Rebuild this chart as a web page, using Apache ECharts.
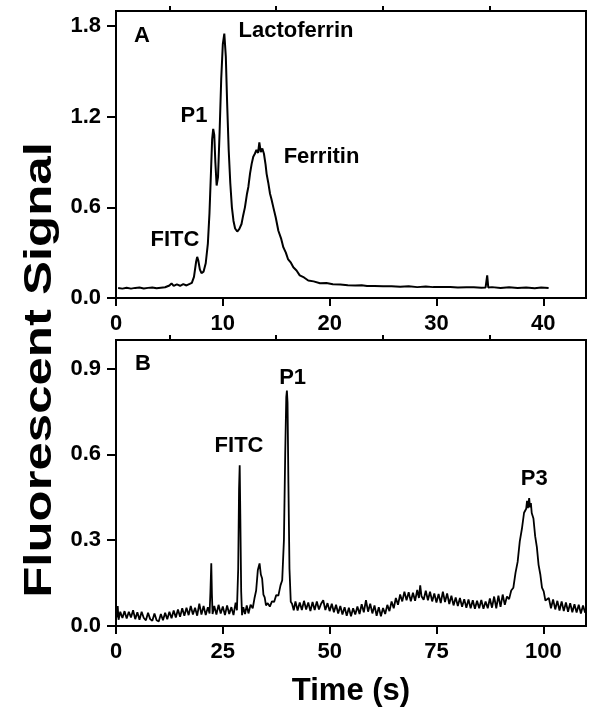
<!DOCTYPE html>
<html><head><meta charset="utf-8">
<script src="https://cdn.jsdelivr.net/npm/echarts@6/dist/echarts.min.js"></script>
<style>html,body{margin:0;padding:0;background:#fff}#c{width:604px;height:717px}</style>
</head><body><div id="c"></div>
<script>
// Panel A: time (s), fluorescent signal
const traceA = [[0.2,0.066],[0.6,0.062],[1.0,0.068],[1.4,0.062],[1.8,0.067],[2.2,0.069],[2.6,0.063],[3.0,0.067],[3.4,0.070],[3.8,0.064],[4.2,0.068],[4.6,0.071],[5.0,0.083],[5.2,0.097],[5.4,0.080],[5.7,0.090],[6.0,0.081],[6.3,0.092],[6.6,0.083],[6.9,0.093],[7.1,0.100],[7.3,0.140],[7.5,0.240],[7.6,0.272],[7.7,0.250],[7.85,0.190],[8.0,0.165],[8.2,0.175],[8.4,0.230],[8.6,0.360],[8.75,0.560],[8.9,0.850],[9.0,1.050],[9.1,1.120],[9.2,1.080],[9.3,0.900],[9.42,0.745],[9.55,0.800],[9.7,1.100],[9.85,1.450],[10.0,1.680],[10.14,1.750],[10.28,1.600],[10.4,1.300],[10.55,0.980],[10.7,0.760],[10.85,0.600],[11.0,0.510],[11.15,0.460],[11.35,0.440],[11.55,0.458],[11.75,0.490],[11.9,0.545],[12.07,0.600],[12.25,0.685],[12.39,0.735],[12.55,0.825],[12.7,0.888],[12.85,0.935],[13.0,0.955],[13.15,0.980],[13.3,0.960],[13.42,1.030],[13.55,0.965],[13.7,0.990],[13.85,0.955],[14.0,0.885],[14.1,0.822],[14.25,0.765],[14.42,0.690],[14.55,0.655],[14.73,0.600],[14.95,0.535],[15.2,0.445],[15.45,0.395],[15.67,0.335],[15.9,0.300],[16.1,0.258],[16.35,0.236],[16.6,0.204],[16.9,0.182],[17.2,0.150],[17.6,0.136],[18.0,0.116],[18.5,0.110],[19.1,0.098],[19.7,0.099],[20.3,0.091],[21.0,0.089],[21.7,0.084],[22.4,0.083],[23.0,0.085],[23.5,0.079],[24.2,0.080],[25.0,0.077],[25.8,0.078],[26.6,0.074],[27.4,0.078],[28.2,0.072],[29.0,0.076],[29.7,0.072],[30.5,0.073],[31.3,0.073],[32.0,0.069],[32.8,0.071],[33.5,0.071],[34.2,0.068],[34.6,0.070],[34.75,0.150],[34.85,0.070],[35.2,0.072],[36.0,0.067],[36.8,0.071],[37.6,0.066],[38.4,0.070],[39.2,0.065],[39.8,0.069],[40.5,0.066]];

// Panel B: time (s), fluorescent signal
const traceB = [[0.2,0.030],[0.4,0.070],[0.6,0.022],[1.0,0.050],[1.5,0.028],[2.0,0.052],[2.5,0.026],[3.0,0.050],[3.5,0.030],[4.0,0.055],[4.5,0.024],[5.0,0.048],[5.5,0.022],[6.0,0.050],[6.5,0.028],[7.0,0.020],[7.5,0.046],[8.0,0.024],[8.5,0.018],[9.0,0.044],[9.5,0.020],[10.0,0.016],[10.5,0.042],[11.0,0.020],[11.5,0.046],[12.0,0.024],[12.5,0.050],[13.0,0.027],[13.5,0.054],[14.0,0.030],[14.5,0.058],[15.0,0.032],[15.5,0.062],[16.0,0.036],[16.5,0.064],[17.0,0.038],[17.5,0.070],[18.0,0.040],[18.5,0.064],[19.0,0.036],[19.5,0.078],[20.0,0.040],[20.5,0.070],[21.0,0.038],[21.5,0.066],[21.9,0.044],[22.1,0.120],[22.3,0.219],[22.45,0.110],[22.6,0.042],[23.0,0.070],[23.5,0.040],[24.0,0.074],[24.5,0.044],[25.0,0.068],[25.5,0.038],[26.0,0.072],[26.5,0.042],[27.0,0.066],[27.5,0.038],[28.0,0.082],[28.3,0.055],[28.6,0.200],[28.8,0.480],[28.95,0.562],[29.1,0.380],[29.3,0.120],[29.5,0.038],[29.8,0.066],[30.2,0.042],[30.6,0.072],[31.0,0.044],[31.5,0.074],[32.0,0.062],[32.4,0.096],[32.8,0.124],[33.2,0.196],[33.6,0.219],[33.9,0.180],[34.2,0.166],[34.5,0.110],[34.8,0.100],[35.1,0.072],[35.5,0.080],[36.0,0.068],[36.5,0.086],[37.0,0.084],[37.5,0.108],[38.0,0.106],[38.5,0.142],[38.9,0.160],[39.3,0.300],[39.6,0.600],[39.85,0.800],[40.0,0.823],[40.15,0.780],[40.35,0.500],[40.6,0.200],[40.9,0.085],[41.2,0.078],[41.6,0.055],[42.0,0.086],[42.5,0.054],[43.0,0.082],[43.5,0.056],[44.0,0.088],[44.5,0.058],[45.0,0.082],[45.5,0.052],[46.0,0.084],[46.5,0.056],[47.0,0.086],[47.5,0.058],[48.0,0.078],[48.5,0.090],[49.0,0.056],[49.5,0.080],[50.0,0.052],[50.5,0.078],[51.0,0.048],[51.5,0.074],[52.0,0.044],[52.5,0.070],[53.0,0.040],[53.5,0.066],[54.0,0.036],[54.5,0.064],[55.0,0.034],[55.5,0.062],[56.0,0.040],[56.5,0.068],[57.0,0.042],[57.5,0.076],[58.0,0.048],[58.5,0.090],[59.0,0.050],[59.5,0.078],[60.0,0.044],[60.5,0.072],[61.0,0.036],[61.5,0.066],[62.0,0.034],[62.5,0.063],[63.0,0.042],[63.5,0.074],[64.0,0.052],[64.5,0.086],[65.0,0.062],[65.5,0.098],[66.0,0.074],[66.5,0.110],[67.0,0.086],[67.5,0.120],[68.0,0.090],[68.5,0.118],[69.0,0.086],[69.5,0.116],[70.0,0.088],[70.5,0.126],[70.9,0.098],[71.2,0.142],[71.5,0.104],[72.0,0.092],[72.5,0.123],[73.0,0.090],[73.5,0.120],[74.0,0.086],[74.5,0.114],[75.0,0.082],[75.5,0.112],[76.0,0.080],[76.5,0.120],[77.0,0.084],[77.5,0.114],[78.0,0.077],[78.5,0.106],[79.0,0.072],[79.5,0.100],[80.0,0.070],[80.5,0.098],[81.0,0.067],[81.5,0.094],[82.0,0.064],[82.5,0.093],[83.0,0.062],[83.5,0.090],[84.0,0.060],[84.5,0.088],[85.0,0.062],[85.5,0.091],[86.0,0.060],[86.5,0.086],[87.0,0.062],[87.5,0.096],[88.0,0.064],[88.5,0.103],[89.0,0.062],[89.5,0.106],[90.0,0.067],[90.5,0.110],[91.0,0.074],[91.5,0.103],[92.0,0.094],[92.5,0.124],[93.0,0.134],[93.5,0.186],[94.0,0.224],[94.5,0.296],[95.0,0.340],[95.5,0.396],[96.0,0.410],[96.2,0.438],[96.4,0.412],[96.7,0.447],[96.9,0.415],[97.1,0.430],[97.3,0.395],[97.7,0.376],[98.1,0.314],[98.5,0.276],[98.9,0.214],[99.3,0.181],[99.7,0.134],[100.1,0.121],[100.5,0.089],[100.9,0.088],[101.3,0.098],[101.8,0.062],[102.3,0.093],[102.8,0.058],[103.3,0.088],[103.8,0.054],[104.3,0.086],[104.8,0.052],[105.3,0.082],[105.8,0.050],[106.3,0.080],[106.8,0.048],[107.3,0.076],[107.8,0.047],[108.3,0.074],[108.8,0.044],[109.3,0.072],[109.8,0.046]];

const xTicksA = [0, 10, 20, 30, 40];
const xMinorA = [5, 15, 25, 35];
const yTicksA = [0, 0.6, 1.2, 1.8];
const xTicksB = [0, 25, 50, 75, 100];
const xMinorB = [12.5, 37.5, 62.5, 87.5];
const yTicksB = [0, 0.3, 0.6, 0.9];

// Annotations: [grid index, text, time, signal]
const notes = [
  [0, 'A', 2.43, 1.737],
  [0, 'Lactoferrin', 16.85, 1.77],
  [0, 'P1', 7.3, 1.207],
  [0, 'Ferritin', 19.24, 0.935],
  [0, 'FITC', 5.52, 0.385],
  [1, 'B', 6.32, 0.917],
  [1, 'P1', 41.33, 0.868],
  [1, 'FITC', 28.8, 0.631],
  [1, 'P3', 97.9, 0.513]
];

const FONT = "'Liberation Sans', Arial, sans-serif";
const chart = echarts.init(document.getElementById('c'), null, {renderer: 'canvas'});

function mainX(grid, max, ticks) {
  return {
    type: 'value', gridIndex: grid, min: 0, max: max,
    axisLine: {show: true, lineStyle: {color: '#000', width: 2}},
    axisTick: {show: true, customValues: ticks, length: 8, lineStyle: {color: '#000', width: 2}},
    axisLabel: {customValues: ticks, color: '#000', fontFamily: FONT, fontWeight: 'bold', fontSize: 22, margin: 15},
    splitLine: {show: false}
  };
}
function minorX(grid, max, ticks) {
  return {
    type: 'value', gridIndex: grid, min: 0, max: max,
    axisLine: {show: false},
    axisTick: {show: true, customValues: ticks, length: 5, lineStyle: {color: '#000', width: 2}},
    axisLabel: {show: false},
    splitLine: {show: false}
  };
}
function mainY(grid, max, ticks) {
  return {
    type: 'value', gridIndex: grid, min: 0, max: max,
    axisLine: {show: true, lineStyle: {color: '#000', width: 2}},
    axisTick: {show: true, customValues: ticks, length: 9, lineStyle: {color: '#000', width: 2}},
    axisLabel: {customValues: ticks, color: '#000', fontFamily: FONT, fontWeight: 'bold', fontSize: 22, margin: 15,
      formatter: v => Number(v).toFixed(1)},
    splitLine: {show: false}
  };
}

chart.setOption({
  animation: false,
  backgroundColor: '#fff',
  grid: [
    {left: 116, top: 11, width: 470, height: 287, show: true, borderColor: '#000', borderWidth: 2, containLabel: false},
    {left: 116, top: 340, width: 470, height: 286, show: true, borderColor: '#000', borderWidth: 2, containLabel: false}
  ],
  xAxis: [mainX(0, 44, xTicksA), minorX(0, 44, xMinorA), mainX(1, 110, xTicksB), minorX(1, 110, xMinorB)],
  yAxis: [mainY(0, 1.9, yTicksA), mainY(1, 1.0, yTicksB)],
  series: [
    {type: 'line', xAxisIndex: 0, yAxisIndex: 0, data: traceA, showSymbol: false, symbol: 'none',
      lineStyle: {color: '#000', width: 2}, silent: true},
    {type: 'line', xAxisIndex: 2, yAxisIndex: 1, data: traceB, showSymbol: false, symbol: 'none',
      lineStyle: {color: '#000', width: 1.8}, silent: true}
  ]
});

const g = [];
notes.forEach(n => {
  const p = chart.convertToPixel({gridIndex: n[0]}, [n[2], n[3]]);
  g.push({type: 'text', x: p[0], y: p[1], silent: true,
    style: {text: n[1], fill: '#000', font: "bold 22px " + FONT, textAlign: 'center', textVerticalAlign: 'middle'}});
});
g.push({type: 'text', x: 41, y: 370, rotation: Math.PI / 2, scaleX: 1.34, silent: true,
  style: {text: 'Fluorescent Signal', fill: '#000', font: "bold 38px " + FONT, textAlign: 'center', textVerticalAlign: 'middle'}});
g.push({type: 'text', x: 351, y: 691, silent: true,
  style: {text: 'Time (s)', fill: '#000', font: "bold 31px " + FONT, textAlign: 'center', textVerticalAlign: 'middle'}});
chart.setOption({graphic: g});
</script></body></html>
